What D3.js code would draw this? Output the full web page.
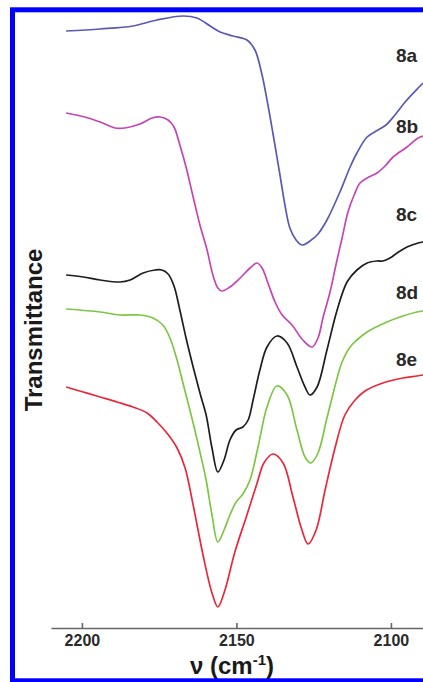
<!DOCTYPE html>
<html>
<head>
<meta charset="utf-8">
<script src="https://cdn.jsdelivr.net/npm/d3@7"></script>
<style>
  html, body { margin: 0; padding: 0; background: #fff; }
  svg { display: block; }
</style>
</head>
<body>
<script>
// IR spectra of the carbonyl/cyanide stretch region, samples 8a–8e (offset traces)
const seriesNames = ["8a", "8b", "8c", "8d", "8e"];
const xTicks = [2200, 2150, 2100];

// wavenumber (cm-1) and transmittance (arbitrary offset units) per sample
const wn8a = [2205.1, 2194.1, 2183.5, 2175.7, 2167.3, 2162.8, 2158.5, 2155.3, 2151.1, 2146.6, 2144.0, 2141.7, 2139.8, 2138.2, 2135.9, 2134.3, 2132.7, 2130.7, 2128.8, 2126.2, 2123.6, 2120.7, 2116.5, 2113.2, 2111.0, 2107.7, 2104.2, 2101.6, 2098.7, 2095.4, 2091.2, 2089.6];
const tr8a = [59.9, 60.1, 60.4, 61.0, 61.4, 61.2, 60.4, 59.8, 59.4, 59.0, 58.0, 55.5, 52.5, 49.7, 45.5, 42.5, 40.2, 39.0, 38.5, 38.9, 39.6, 41.0, 43.8, 46.3, 47.7, 49.3, 50.0, 50.5, 51.5, 52.8, 54.2, 54.7];

const wn8b = [2205.1, 2199.0, 2194.1, 2189.3, 2186.1, 2181.2, 2177.3, 2174.7, 2172.1, 2170.2, 2168.3, 2166.3, 2164.0, 2161.8, 2159.5, 2157.6, 2156.0, 2154.7, 2152.1, 2148.8, 2145.6, 2143.3, 2141.7, 2139.8, 2137.5, 2135.2, 2132.0, 2128.5, 2125.5, 2123.6, 2122.0, 2119.7, 2117.8, 2115.8, 2113.9, 2111.9, 2110.0, 2107.7, 2104.5, 2101.9, 2099.3, 2094.8, 2091.2, 2089.6];
const tr8b = [51.7, 51.3, 50.8, 50.2, 50.2, 50.6, 51.2, 51.3, 51.0, 50.3, 48.5, 46.3, 43.3, 40.5, 38.0, 35.5, 34.2, 33.9, 34.3, 35.2, 36.2, 36.7, 36.2, 34.7, 32.8, 31.5, 30.5, 29.0, 28.3, 29.2, 31.2, 33.8, 36.5, 39.2, 41.8, 43.5, 44.7, 45.2, 45.7, 46.4, 47.3, 48.3, 49.2, 49.4];

const wn8c = [2205.1, 2199.6, 2194.1, 2187.7, 2184.4, 2180.2, 2176.3, 2174.1, 2172.1, 2170.2, 2168.3, 2166.3, 2164.0, 2161.8, 2159.8, 2157.9, 2156.0, 2154.0, 2152.1, 2150.1, 2147.9, 2146.2, 2144.6, 2142.4, 2140.1, 2136.9, 2133.6, 2130.4, 2127.8, 2126.2, 2123.9, 2120.7, 2117.4, 2114.2, 2111.0, 2107.7, 2104.5, 2102.6, 2100.3, 2098.0, 2094.8, 2091.2, 2089.6];
const tr8c = [35.5, 35.3, 35.0, 34.8, 35.0, 35.7, 36.0, 36.0, 35.6, 34.4, 32.0, 29.2, 26.3, 23.7, 21.5, 18.2, 15.8, 17.0, 19.0, 20.0, 20.3, 21.0, 23.0, 26.0, 28.3, 29.4, 28.7, 26.3, 24.3, 23.5, 24.3, 28.0, 32.0, 34.8, 36.0, 36.7, 36.9, 36.9, 37.2, 37.7, 38.3, 38.7, 38.8];

const wn8d = [2205.1, 2194.1, 2187.7, 2181.2, 2177.0, 2173.8, 2171.5, 2169.2, 2167.3, 2164.0, 2161.8, 2159.8, 2157.9, 2156.0, 2154.0, 2152.1, 2150.1, 2147.9, 2145.6, 2143.0, 2140.1, 2136.9, 2133.6, 2130.4, 2127.8, 2125.9, 2123.6, 2120.7, 2117.4, 2115.8, 2113.2, 2111.0, 2107.7, 2101.3, 2096.1, 2091.6, 2089.6];
const tr8d = [32.1, 31.8, 31.5, 31.5, 31.2, 30.5, 29.2, 27.0, 24.7, 20.7, 17.8, 15.0, 11.5, 8.8, 10.0, 11.5, 12.8, 13.6, 15.0, 18.3, 22.3, 24.4, 23.5, 20.0, 17.3, 16.7, 17.7, 21.2, 25.2, 26.8, 28.3, 29.0, 29.8, 30.8, 31.4, 31.8, 31.9];

const wn8e = [2205.1, 2199.6, 2194.1, 2188.6, 2183.5, 2178.9, 2175.7, 2172.5, 2169.2, 2166.6, 2164.0, 2160.8, 2157.9, 2156.0, 2153.7, 2150.5, 2146.6, 2143.3, 2141.1, 2138.2, 2134.9, 2131.7, 2128.8, 2126.8, 2124.2, 2121.3, 2118.1, 2114.9, 2111.6, 2108.4, 2102.6, 2096.1, 2091.6, 2089.6];
const tr8e = [24.3, 23.8, 23.3, 22.8, 22.3, 21.7, 20.8, 19.7, 18.2, 16.2, 12.5, 7.5, 3.7, 2.3, 4.0, 7.8, 11.5, 14.7, 16.7, 17.6, 16.7, 13.3, 10.0, 8.6, 10.0, 14.0, 18.2, 21.5, 23.0, 23.9, 24.7, 25.2, 25.4, 25.5];

const wavenumbers = [wn8a, wn8b, wn8c, wn8d, wn8e];
const transmittances = [tr8a, tr8b, tr8c, tr8d, tr8e];

// styling / layout
const colors = ["#5a5ab4", "#c446b4", "#1e1e1e", "#7ec646", "#e8283c"];
const labelBaselines = [62, 133, 221, 299, 366];
const W = 423, H = 682;
const fontFamily = "'Liberation Sans', Arial, Helvetica, sans-serif";

const svg = d3.select("body").append("svg")
  .attr("width", W).attr("height", H)
  .attr("viewBox", `0 0 ${W} ${H}`);

svg.append("rect").attr("width", W).attr("height", H).attr("fill", "#fff");

const x = d3.scaleLinear().domain([2210, 2088]).range([51, 428]);
const y = d3.scaleLinear().domain([0, 62]).range([630, 10]);

const line = d3.line()
  .x(d => x(d[0]))
  .y(d => y(d[1]))
  .curve(d3.curveCatmullRom.alpha(0.5));

// spectra
seriesNames.forEach((name, i) => {
  const pts = d3.zip(wavenumbers[i], transmittances[i]);
  svg.append("path")
    .datum(pts)
    .attr("fill", "none")
    .attr("stroke", colors[i])
    .attr("stroke-width", 1.7)
    .attr("stroke-linejoin", "round")
    .attr("d", line);
});

// series labels
svg.append("g")
  .selectAll("text")
  .data(seriesNames)
  .join("text")
  .attr("x", 396)
  .attr("y", (d, i) => labelBaselines[i])
  .attr("font-family", fontFamily)
  .attr("font-weight", "bold")
  .attr("font-size", 19)
  .attr("fill", "#2a2a2a")
  .text(d => d);

// x axis
const axis = svg.append("g")
  .attr("transform", "translate(0,628)")
  .call(d3.axisBottom(x).tickValues(xTicks).tickSize(-5).tickSizeOuter(0).tickPadding(7).tickFormat(d3.format("d")));
axis.select(".domain").attr("stroke", "#666").attr("stroke-width", 1.6);
axis.selectAll(".tick line").attr("stroke", "#666").attr("stroke-width", 1.6);
axis.selectAll(".tick text")
  .attr("font-family", fontFamily)
  .attr("font-weight", "bold")
  .attr("font-size", 16)
  .attr("fill", "#2a2a2a");

// x axis title: ν (cm-1)
const xt = svg.append("text")
  .attr("x", 232).attr("y", 674)
  .attr("text-anchor", "middle")
  .attr("font-family", fontFamily)
  .attr("font-weight", "bold")
  .attr("font-size", 24)
  .attr("fill", "#1a1a1a");
xt.append("tspan").text("ν (cm");
xt.append("tspan").attr("dy", -9).attr("font-size", 15).text("-1");
xt.append("tspan").attr("dy", 9).text(")");

// y axis title
svg.append("text")
  .attr("transform", "translate(42,330) rotate(-90)")
  .attr("text-anchor", "middle")
  .attr("font-family", fontFamily)
  .attr("font-weight", "bold")
  .attr("font-size", 24)
  .attr("fill", "#1a1a1a")
  .text("Transmittance");

// frame
svg.append("rect")
  .attr("x", 12.5).attr("y", 9.8)
  .attr("width", 440).attr("height", 671)
  .attr("fill", "none")
  .attr("stroke", "#0000ff")
  .attr("stroke-width", 5);
</script>
</body>
</html>
